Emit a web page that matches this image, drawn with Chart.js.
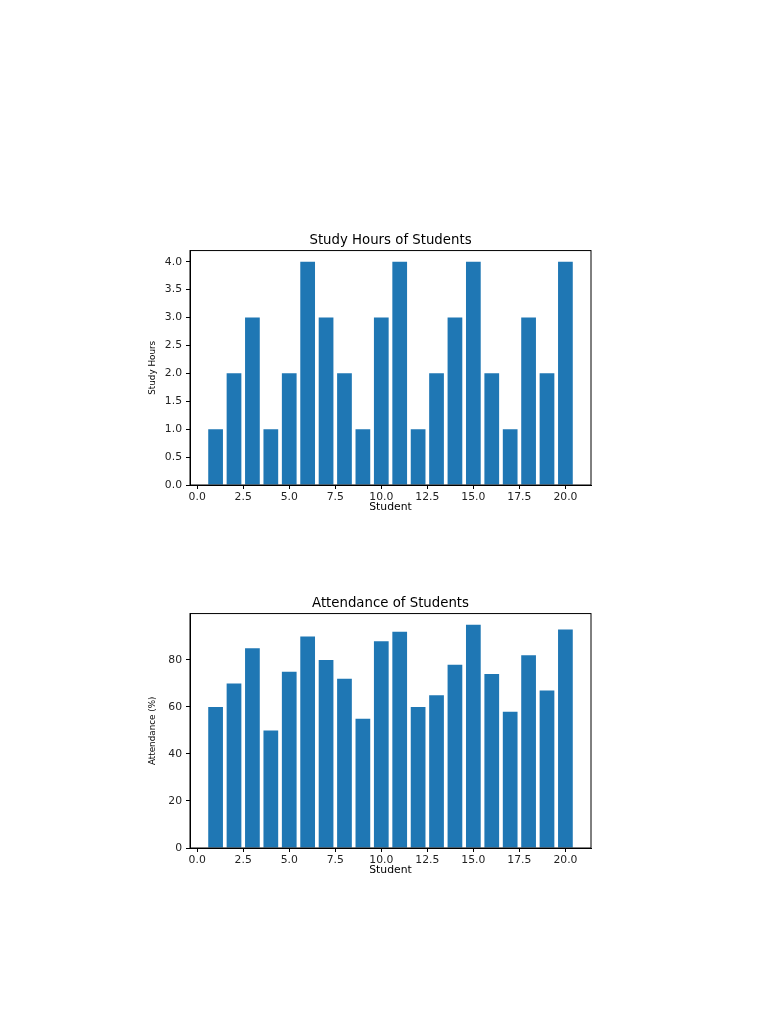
<!DOCTYPE html>
<html>
<head>
<meta charset="utf-8">
<script src="https://cdn.jsdelivr.net/npm/chart.js@4/dist/chart.umd.min.js"></script>
<style>
    body { margin: 0; background: #fff; width: 768px; height: 1024px; position: relative; overflow: hidden; }
    canvas { position: absolute; }
</style>
</head>
<body>
<canvas id="horas" width="460" height="290" style="left:140px; top:230px; width:460px; height:290px;"></canvas>
<canvas id="asistencia" width="460" height="290" style="left:140px; top:593px; width:460px; height:290px;"></canvas>
<script>
const students = [1, 2, 3, 4, 5, 6, 7, 8, 9, 10, 11, 12, 13, 14, 15, 16, 17, 18, 19, 20];
const studyHours = [1, 2, 3, 1, 2, 4, 3, 2, 1, 3, 4, 1, 2, 3, 4, 2, 1, 3, 2, 4];
const attendance = [60, 70, 85, 50, 75, 90, 80, 72, 55, 88, 92, 60, 65, 78, 95, 74, 58, 82, 67, 93];
const xTicks = [0, 2.5, 5, 7.5, 10, 12.5, 15, 17.5, 20];
const hoursTicks = [0, 0.5, 1, 1.5, 2, 2.5, 3, 3.5, 4];
const attendanceTicks = [0, 20, 40, 60, 80];

const FONT = "'DejaVu Sans', sans-serif";

// matplotlib style box around the plot area
const frame = {
    id: 'frame',
    afterDraw(chart) {
        const {ctx, chartArea: a} = chart;
        ctx.save();
        ctx.strokeStyle = '#000';
        ctx.lineWidth = 1;
        ctx.strokeRect(a.left, a.top, a.right - a.left, a.bottom - a.top);
        ctx.restore();
    }
};

function graphBars(context, values, config) {
    return new Chart(context, {
        type: 'bar',
        data: {
            datasets: [{
                data: students.map((s, i) => ({x: s, y: values[i]})),
                backgroundColor: '#1f77b4',
                borderWidth: 0,
                categoryPercentage: 1,
                barPercentage: 0.8,
            }]
        },
        options: {
            responsive: false,
            animation: false,
            layout: {padding: {left: 0, right: 9, top: 0, bottom: 0}},
            plugins: {
                legend: {display: false},
                tooltip: {enabled: false},
                title: {
                    display: true,
                    text: config.title,
                    fullSize: false,
                    color: '#000',
                    font: {family: FONT, size: 13.3, weight: 'normal', lineHeight: 1.2},
                    padding: {top: 3, bottom: 1.6}
                }
            },
            scales: {
                x: {
                    type: 'linear',
                    min: -0.39,
                    max: 21.39,
                    offset: false,
                    grid: {offset: false, drawOnChartArea: false, drawTicks: true, tickLength: 4, color: '#000'},
                    border: {color: '#000', width: 1},
                    afterBuildTicks: (scale) => { scale.ticks = xTicks.map(v => ({value: v})); },
                    afterFit: (scale) => { scale.height = 35; },
                    ticks: {
                        color: '#222',
                        font: {family: FONT, size: 10.8},
                        padding: 1.5,
                        maxRotation: 0,
                        callback: (v) => v.toFixed(1)
                    },
                    title: {
                        display: true,
                        text: 'Student',
                        color: '#000',
                        font: {family: FONT, size: 10.8},
                        padding: {top: 0, bottom: 6.5}
                    }
                },
                y: {
                    min: 0,
                    max: config.max,
                    grid: {drawOnChartArea: false, drawTicks: true, tickLength: 4, color: '#000'},
                    border: {color: '#000', width: 1},
                    afterBuildTicks: (scale) => { scale.ticks = config.ticks.map(v => ({value: v})); },
                    afterFit: (scale) => { scale.width = 50; },
                    ticks: {
                        color: '#222',
                        font: {family: FONT, size: 10.8},
                        padding: 4,
                        callback: config.format
                    },
                    title: {
                        display: true,
                        text: config.yLabel,
                        color: '#000',
                        font: {family: FONT, size: 8.8},
                        padding: {top: 7.5, bottom: 0}
                    }
                }
            }
        },
        plugins: [frame]
    });
}

graphBars(document.getElementById('horas').getContext('2d'), studyHours, {
    title: 'Study Hours of Students',
    yLabel: 'Study Hours',
    max: 4.2,
    ticks: hoursTicks,
    format: (v) => v.toFixed(1)
});

graphBars(document.getElementById('asistencia').getContext('2d'), attendance, {
    title: 'Attendance of Students',
    yLabel: 'Attendance (%)',
    max: 99.75,
    ticks: attendanceTicks,
    format: (v) => v.toFixed(0)
});
</script>
</body>
</html>
